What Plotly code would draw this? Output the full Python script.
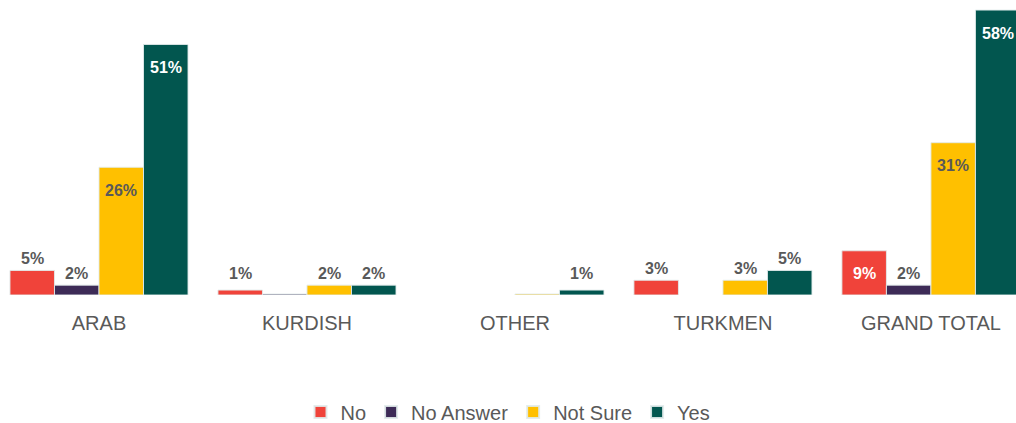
import plotly.graph_objects as go

# Survey responses by group, in percent
categories = ["ARAB", "KURDISH", "OTHER", "TURKMEN", "GRAND TOTAL"]
series_names = ["No", "No Answer", "Not Sure", "Yes"]
no_vals = [5, 1, None, 3, 9]
no_answer_vals = [2, 0.2, None, None, 2]
not_sure_vals = [26, 2, 0.2, 3, 31]
yes_vals = [51, 2, 1, 5, 58]

colors = ["#F0433A", "#3D2B57", "#FFC000", "#02564F"]
inside_text_colors = ["#FFFFFF", "#FFFFFF", "#595959", "#FFFFFF"]
label_gray = "#595959"

all_series = [no_vals, no_answer_vals, not_sure_vals, yes_vals]

fig = go.Figure()
for name, vals, col in zip(series_names, all_series, colors):
    fig.add_trace(go.Bar(
        name=name,
        x=categories,
        y=vals,
        marker=dict(color=col, line=dict(color="rgba(225,235,235,0.9)", width=1)),
        hoverinfo="x+y+name",
    ))

bargap = 0.144
n_series = len(all_series)
bar_w = (1 - bargap) / n_series

# Value labels: inside near the top for tall bars, above the bar for short ones
annotations = []
for si, (vals, in_col) in enumerate(zip(all_series, inside_text_colors)):
    for ci, v in enumerate(vals):
        if v is None or v < 0.5:
            continue
        xpos = ci + (si - (n_series - 1) / 2) * bar_w
        txt = f"{v:.0f}%"
        if v >= 9:
            annotations.append(dict(
                x=xpos, y=v, xref="x", yref="y", text=f"<b>{txt}</b>",
                showarrow=False, yanchor="middle", yshift=-23,
                font=dict(family="Liberation Sans", size=16, color=in_col)))
        else:
            annotations.append(dict(
                x=xpos, y=max(v, 2), xref="x", yref="y", text=f"<b>{txt}</b>",
                showarrow=False, yanchor="bottom", yshift=1,
                font=dict(family="Liberation Sans", size=16, color=label_gray)))

fig.update_layout(
    width=1016, height=423,
    margin=dict(l=0, r=0, t=0, b=128, autoexpand=False),
    paper_bgcolor="white", plot_bgcolor="white",
    barmode="group", bargap=bargap, bargroupgap=0,
    font=dict(family="Liberation Sans", color=label_gray),
    showlegend=True,
    legend=dict(orientation="h", x=0.5, xanchor="center", y=-0.397, yanchor="middle",
                font=dict(family="Liberation Sans", size=20, color=label_gray),
                itemsizing="constant"),
    annotations=annotations,
)
fig.update_xaxes(range=[-0.476, 4.409], showgrid=False, showline=False, zeroline=False,
                 ticks="", ticklabelstandoff=14, automargin=False,
                 tickfont=dict(family="Liberation Sans", size=20, color=label_gray))
fig.update_yaxes(range=[0, 60.05], visible=False, showgrid=False, zeroline=False,
                 automargin=False)

fig.write_html("out.html")
